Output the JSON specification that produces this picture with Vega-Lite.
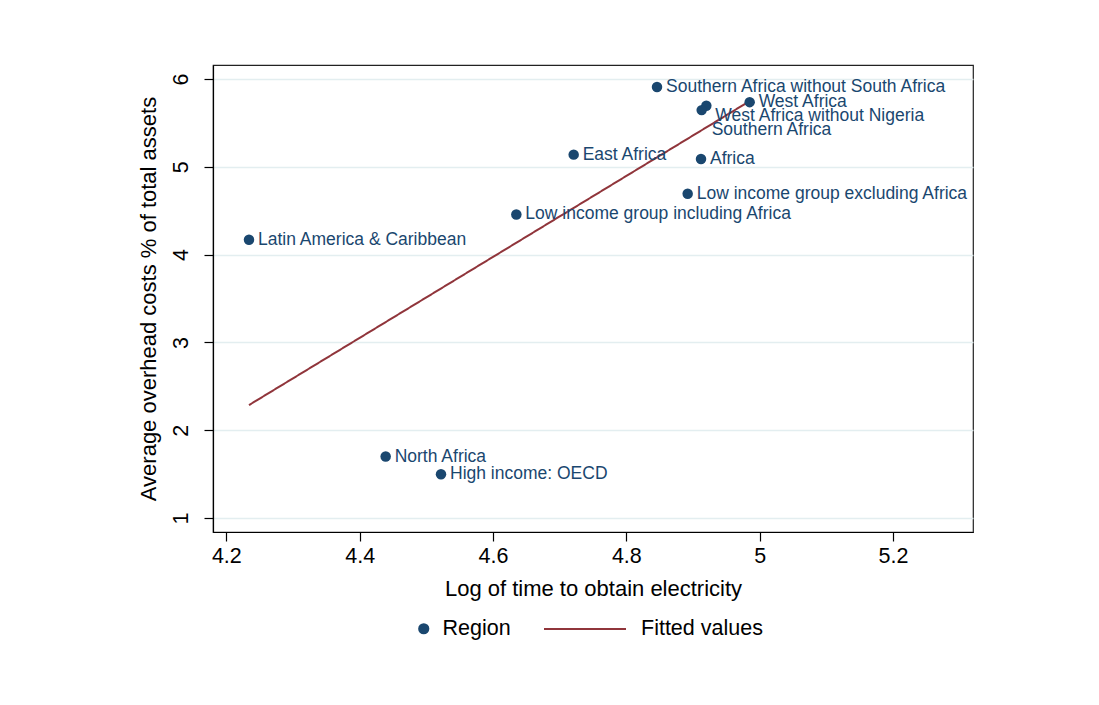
{
  "$schema": "https://vega.github.io/schema/vega-lite/v6.json",
  "autosize": {"type": "none"},
  "width": 760,
  "height": 467,
  "padding": {"left": 213, "top": 65, "right": 126, "bottom": 173},
  "background": "white",
  "config": {
    "font": "Liberation Sans",
    "view": {"stroke": "#222222", "strokeWidth": 1.2},
    "axis": {"labelFont": "Liberation Sans", "titleFont": "Liberation Sans", "labelColor": "#000", "titleColor": "#000", "titleFontWeight": "normal", "domainColor": "#000", "tickColor": "#000", "domainWidth": 1.2, "tickWidth": 1.2},
    "legend": {"labelFont": "Liberation Sans", "labelColor": "#000", "padding": 0}
  },
  "datasets": {
    "regions": [
      {"name": "Southern Africa without South Africa", "logtime": 4.846, "overhead": 5.909, "series": "Region"},
      {"name": "West Africa", "logtime": 4.985, "overhead": 5.737, "series": "Region"},
      {"name": "West Africa without Nigeria", "logtime": 4.920, "overhead": 5.695, "series": "Region"},
      {"name": "Southern Africa", "logtime": 4.913, "overhead": 5.646, "series": "Region"},
      {"name": "East Africa", "logtime": 4.721, "overhead": 5.139, "series": "Region"},
      {"name": "Africa", "logtime": 4.912, "overhead": 5.089, "series": "Region"},
      {"name": "Low income group excluding Africa", "logtime": 4.892, "overhead": 4.694, "series": "Region"},
      {"name": "Low income group including Africa", "logtime": 4.635, "overhead": 4.457, "series": "Region"},
      {"name": "Latin America & Caribbean", "logtime": 4.234, "overhead": 4.170, "series": "Region"},
      {"name": "North Africa", "logtime": 4.439, "overhead": 1.700, "series": "Region"},
      {"name": "High income: OECD", "logtime": 4.522, "overhead": 1.498, "series": "Region"}
    ],
    "fitted": [
      {"logtime": 4.234, "fit": 2.286, "series": "Fitted values"},
      {"logtime": 4.985, "fit": 5.749, "series": "Fitted values"}
    ]
  },
  "layer": [
    {
      "data": {"name": "fitted"},
      "mark": {"type": "line", "color": "#90353b", "strokeWidth": 2},
      "encoding": {
        "x": {"field": "logtime", "type": "quantitative", "scale": {"domain": [4.18, 5.32], "nice": false, "zero": false},
          "axis": {"title": "Log of time to obtain electricity", "values": [4.2, 4.4, 4.6, 4.8, 5, 5.2], "format": "~g", "grid": false, "labelFontSize": 21.5, "titleFontSize": 22, "tickSize": 9, "labelPadding": 4, "titlePadding": 12, "labelFlush": false}},
        "y": {"field": "fit", "type": "quantitative", "scale": {"domain": [0.84, 6.16], "nice": false, "zero": false},
          "axis": {"title": "Average overhead costs % of total assets", "values": [1, 2, 3, 4, 5, 6], "format": "~g", "grid": true, "gridColor": "#e3eef0", "gridWidth": 1.5, "labelAngle": -90, "labelAlign": "center", "labelBaseline": "bottom", "labelFontSize": 21.5, "titleFontSize": 22, "tickSize": 9, "labelPadding": 12, "titlePadding": 10, "labelFlush": false}},
        "strokeDash": {"field": "series", "type": "nominal", "scale": {"domain": ["Fitted values"], "range": [[1, 0]]},
          "legend": {"title": null, "orient": "none", "legendX": 330, "legendY": 522, "direction": "horizontal", "symbolType": "stroke", "symbolSize": 6724, "symbolStrokeColor": "#90353b", "symbolStrokeWidth": 2, "labelFontSize": 21.5, "labelOffset": 14}}
      }
    },
    {
      "data": {"name": "regions"},
      "mark": {"type": "point", "filled": true, "size": 110, "opacity": 1},
      "encoding": {
        "x": {"field": "logtime", "type": "quantitative"},
        "y": {"field": "overhead", "type": "quantitative"},
        "color": {"field": "series", "type": "nominal", "scale": {"domain": ["Region"], "range": ["#1a476f"]},
          "legend": {"title": null, "orient": "none", "legendX": 200, "legendY": 553, "direction": "horizontal", "symbolType": "circle", "symbolSize": 125, "symbolOpacity": 1, "labelFontSize": 21.5, "labelOffset": 8}}
      }
    },
    {
      "data": {"name": "regions"},
      "transform": [{"filter": "datum.name != 'West Africa without Nigeria' && datum.name != 'Southern Africa'"}],
      "mark": {"type": "text", "align": "left", "baseline": "middle", "dx": 9, "fontSize": 17.5, "color": "#1a476f"},
      "encoding": {
        "x": {"field": "logtime", "type": "quantitative"},
        "y": {"field": "overhead", "type": "quantitative"},
        "text": {"field": "name"}
      }
    },
    {
      "data": {"name": "regions"},
      "transform": [{"filter": "datum.name == 'West Africa without Nigeria'"}],
      "mark": {"type": "text", "align": "left", "baseline": "middle", "dx": 9, "dy": 10, "fontSize": 17.5, "color": "#1a476f"},
      "encoding": {
        "x": {"field": "logtime", "type": "quantitative"},
        "y": {"field": "overhead", "type": "quantitative"},
        "text": {"field": "name"}
      }
    },
    {
      "data": {"name": "regions"},
      "transform": [{"filter": "datum.name == 'Southern Africa'"}],
      "mark": {"type": "text", "align": "left", "baseline": "middle", "dx": 10, "dy": 20, "fontSize": 17.5, "color": "#1a476f"},
      "encoding": {
        "x": {"field": "logtime", "type": "quantitative"},
        "y": {"field": "overhead", "type": "quantitative"},
        "text": {"field": "name"}
      }
    }
  ]
}
